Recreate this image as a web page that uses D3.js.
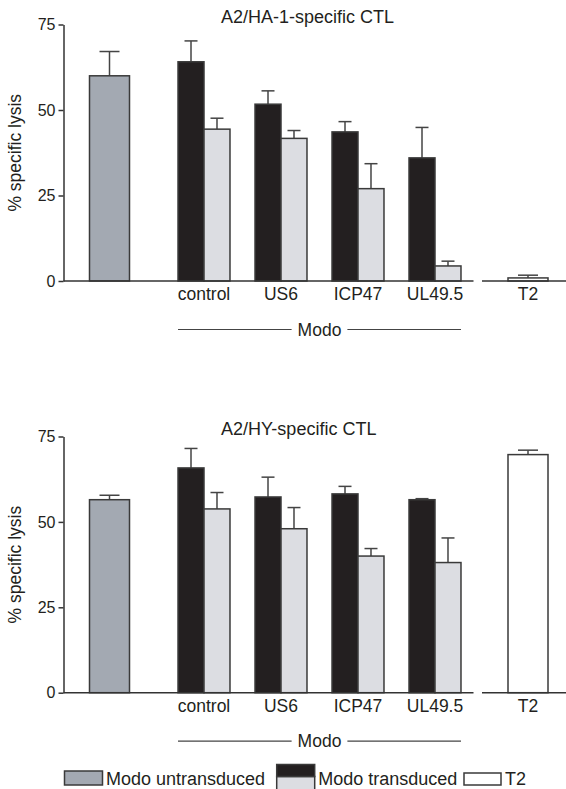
<!DOCTYPE html>
<html>
<head>
<meta charset="utf-8">
<script src="https://cdn.jsdelivr.net/npm/d3@7"></script>
<style>
  body { margin: 0; background: #fff; }
  svg text { font-family: "Liberation Sans", Arial, sans-serif; fill: #231f20; }
</style>
</head>
<body>
<div id="chart"></div>
<script>
// values (% specific lysis, mean and error)
var groups = ["control", "US6", "ICP47", "UL49.5"];
var panelTitles = ["A2/HA-1-specific CTL", "A2/HY-specific CTL"];
var yTicks = [0, 25, 50, 75];

var untransduced = [60.0, 56.5];
var untransducedErr = [7.1, 1.3];

var darkHA = [64.1, 51.7, 43.6, 36.0];
var darkHAErr = [6.1, 3.9, 3.0, 8.9];
var lightHA = [44.4, 41.7, 27.0, 4.4];
var lightHAErr = [3.2, 2.3, 7.3, 1.4];

var darkHY = [65.8, 57.3, 58.2, 56.5];
var darkHYErr = [5.7, 5.8, 2.2, 0.3];
var lightHY = [53.8, 48.0, 40.0, 38.1];
var lightHYErr = [4.8, 6.2, 2.2, 7.2];

var t2 = [0.9, 69.7];
var t2Err = [0.8, 1.3];

var legendLabels = ["Modo untransduced", "Modo transduced", "T2"];

var colors = { untr: "#a3a9b2", dark: "#231f20", light: "#dcdde2", t2: "#ffffff", stroke: "#3a3a3a" };

var W = 566, H = 789;
var svg = d3.select("#chart").append("svg")
    .attr("width", W).attr("height", H);

var axisX = 63.5;

// x scales: one for the untransduced bar, one for the Modo groups, one for T2
var xUntr = d3.scaleBand().domain(["untr"]).range([63.5, 155.5]).paddingInner(0).paddingOuter(0.65);
var xGroup = d3.scaleBand().domain(groups).range([165.5, 473.5]).paddingInner(0.325).paddingOuter(0.1625);
var xSub = d3.scaleBand().domain(["dark", "light"]).range([0, xGroup.bandwidth()]);
var xT2 = d3.scaleBand().domain(["T2"]).range([482, 574]).paddingInner(0).paddingOuter(0.65);

var panels = [
  { top: 24.5, bottom: 281, dark: darkHA, darkErr: darkHAErr, light: lightHA, lightErr: lightHAErr },
  { top: 436.5, bottom: 692.7, dark: darkHY, darkErr: darkHYErr, light: lightHY, lightErr: lightHYErr }
];

function bar(g, x, w, y, v, err, fill) {
  // error bar first (stem + cap), then the bar on top
  var cx = x + w / 2, cap = w / 4;
  g.append("line").attr("x1", cx).attr("x2", cx).attr("y1", y(v)).attr("y2", y(v + err))
    .attr("stroke", "#444").attr("stroke-width", 1.5);
  g.append("line").attr("x1", cx - cap).attr("x2", cx + cap).attr("y1", y(v + err)).attr("y2", y(v + err))
    .attr("stroke", "#444").attr("stroke-width", 1.5);
  g.append("rect").attr("x", x).attr("y", y(v)).attr("width", w).attr("height", y(0) - y(v))
    .attr("fill", fill).attr("stroke", colors.stroke).attr("stroke-width", 1.5);
}

panels.forEach(function(p, i) {
  var y = d3.scaleLinear().domain([0, 75]).range([p.bottom, p.top]);
  var g = svg.append("g");

  // title
  g.append("text").attr("x", 221).attr("y", p.top - 1.5)
    .style("font-size", "18px").text(panelTitles[i]);

  // y axis
  var ax = g.append("g").attr("transform", "translate(" + axisX + ",0)")
    .call(d3.axisLeft(y).tickValues(yTicks).tickSize(5).tickSizeOuter(0).tickPadding(3));
  ax.selectAll("path, line").attr("stroke", "#333").attr("stroke-width", 1.5);
  ax.selectAll("text").style("font-size", "16px").attr("fill", "#231f20");

  g.append("text")
    .attr("transform", "translate(21," + ((p.top + p.bottom) / 2) + ") rotate(-90)")
    .style("text-anchor", "middle").style("font-size", "17.5px")
    .text("% specific lysis");

  // bars
  bar(g, xUntr("untr"), xUntr.bandwidth(), y, untransduced[i], untransducedErr[i], colors.untr);
  groups.forEach(function(c, j) {
    bar(g, xGroup(c) + xSub("dark"), xSub.bandwidth(), y, p.dark[j], p.darkErr[j], colors.dark);
    bar(g, xGroup(c) + xSub("light"), xSub.bandwidth(), y, p.light[j], p.lightErr[j], colors.light);
  });
  bar(g, xT2("T2"), xT2.bandwidth(), y, t2[i], t2Err[i], colors.t2);

  // baseline, broken before T2
  g.append("line").attr("x1", axisX).attr("x2", xGroup.range()[1]).attr("y1", y(0)).attr("y2", y(0))
    .attr("stroke", "#333").attr("stroke-width", 1.5);
  g.append("line").attr("x1", xT2.range()[0]).attr("x2", W).attr("y1", y(0)).attr("y2", y(0))
    .attr("stroke", "#333").attr("stroke-width", 1.5);

  // category labels
  groups.forEach(function(c) {
    g.append("text").attr("x", xGroup(c) + xGroup.bandwidth() / 2).attr("y", y(0) + 19)
      .style("text-anchor", "middle").style("font-size", "17.5px").text(c);
  });
  g.append("text").attr("x", xT2("T2") + xT2.bandwidth() / 2).attr("y", y(0) + 19)
    .style("text-anchor", "middle").style("font-size", "17.5px").text("T2");

  // Modo bracket
  var mx0 = xGroup(groups[0]), mx1 = xGroup(groups[3]) + xGroup.bandwidth();
  var mc = (mx0 + mx1) / 2, my = y(0) + 48.5;
  var modo = g.append("text").attr("x", mc).attr("y", my + 6)
    .style("text-anchor", "middle").style("font-size", "17.5px").text("Modo");
  var half = modo.node().getComputedTextLength() / 2 + 6;
  g.append("line").attr("x1", mx0).attr("x2", mc - half).attr("y1", my).attr("y2", my)
    .attr("stroke", "#444").attr("stroke-width", 1.2);
  g.append("line").attr("x1", mc + half).attr("x2", mx1).attr("y1", my).attr("y2", my)
    .attr("stroke", "#444").attr("stroke-width", 1.2);
});

// legend
var lg = svg.append("g");
var legendX = [64.5, 276.7, 464];
lg.append("rect").attr("x", legendX[0]).attr("y", 771).attr("width", 38).attr("height", 14)
  .attr("fill", colors.untr).attr("stroke", colors.stroke).attr("stroke-width", 1.5);
lg.append("rect").attr("x", legendX[1]).attr("y", 776.5).attr("width", 38).attr("height", 14)
  .attr("fill", colors.light).attr("stroke", colors.stroke).attr("stroke-width", 1.5);
lg.append("rect").attr("x", legendX[1]).attr("y", 764.5).attr("width", 38).attr("height", 12)
  .attr("fill", colors.dark).attr("stroke", colors.stroke).attr("stroke-width", 1.5);
lg.append("rect").attr("x", legendX[2]).attr("y", 773).attr("width", 37).attr("height", 12)
  .attr("fill", colors.t2).attr("stroke", colors.stroke).attr("stroke-width", 1.5);
legendLabels.forEach(function(t, k) {
  lg.append("text").attr("x", legendX[k] + (k === 2 ? 41 : 41.5)).attr("y", 785)
    .style("font-size", "18px").text(t);
});
</script>
</body>
</html>
